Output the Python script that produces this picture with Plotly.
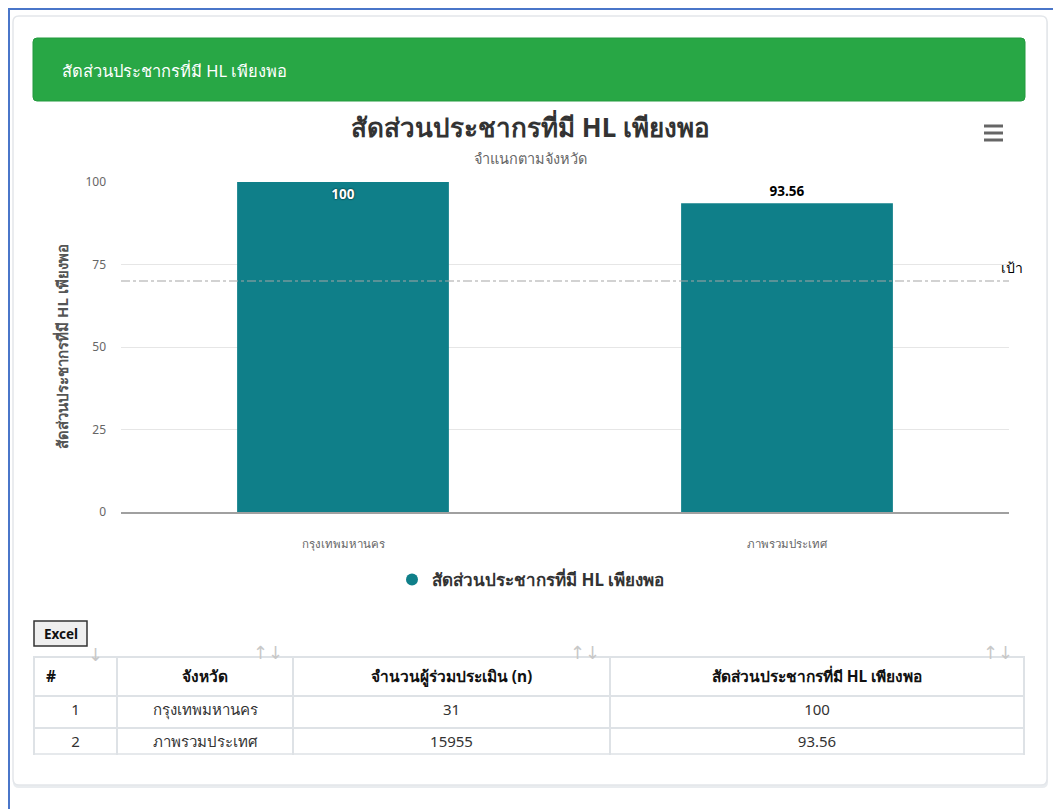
import plotly.graph_objects as go

# ---------------- data ----------------
categories = ["กรุงเทพมหานคร", "ภาพรวมประเทศ"]
hl_values = [100, 93.56]
participants = [31, 15955]
row_numbers = [1, 2]
target_value = 70
series_name = "สัดส่วนประชากรที่มี HL เพียงพอ"
chart_title = "สัดส่วนประชากรที่มี HL เพียงพอ"
chart_subtitle = "จำแนกตามจังหวัด"
yaxis_title = "สัดส่วนประชากรที่มี HL เพียงพอ"
target_label = "เป้า"
card_header = "สัดส่วนประชากรที่มี HL เพียงพอ"
table_headers = ["#", "จังหวัด", "จำนวนผู้ร่วมประเมิน (n)", "สัดส่วนประชากรที่มี HL เพียงพอ"]
y_ticks = [0, 25, 50, 75, 100]

# ---------------- layout helpers ----------------
W, H = 1053, 809
FONT = "Noto Sans, DejaVu Sans, Liberation Sans, sans-serif"
TEAL = "#0f7f89"


def px(x):
    return x / W


def py(y):
    return 1 - y / H


def rounded_rect(x0, y0, x1, y1, r):
    rx, ry = r / W, r / H
    X0, X1 = px(x0), px(x1)
    Y0, Y1 = py(y0), py(y1)  # Y0 top, Y1 bottom
    return (
        f"M {X0 + rx},{Y0} L {X1 - rx},{Y0} Q {X1},{Y0} {X1},{Y0 - ry} "
        f"L {X1},{Y1 + ry} Q {X1},{Y1} {X1 - rx},{Y1} "
        f"L {X0 + rx},{Y1} Q {X0},{Y1} {X0},{Y1 + ry} "
        f"L {X0},{Y0 - ry} Q {X0},{Y0} {X0 + rx},{Y0} Z"
    )


fig = go.Figure()

# bars
fig.add_trace(go.Bar(
    x=categories,
    y=hl_values,
    name=series_name,
    marker=dict(color=TEAL, line=dict(width=0)),
    text=[f"{v:g}" for v in hl_values],
    texttemplate="<b>%{text}</b>",
    textposition=["inside" if v >= 97 else "outside" for v in hl_values],
    insidetextanchor="end",
    textangle=0,
    constraintext="none",
    cliponaxis=False,
    textfont=dict(size=13.5, family=FONT, color=["#ffffff" if v >= 97 else "#000000" for v in hl_values]),
    insidetextfont=dict(size=13.5, family=FONT, color="#ffffff", shadow="0px 0px 2px #000"),
    outsidetextfont=dict(size=13.5, family=FONT, color="#000000"),
    showlegend=False,
    hoverinfo="x+y",
))

# legend entry with circle symbol (Highcharts style)
fig.add_trace(go.Scatter(
    x=[None], y=[None], mode="markers", name=series_name,
    marker=dict(symbol="circle", size=16, color=TEAL),
    showlegend=True,
))

# table
fig.add_trace(go.Table(
    domain=dict(x=[px(34), px(1024)], y=[py(756), py(657)]),
    columnwidth=[83, 176, 317, 414],
    header=dict(
        values=["&nbsp;<b>" + h + "</b>" if h == "#" else f"<b>{h}</b>" for h in table_headers],
        align=["left", "center", "center", "center"],
        fill_color="white",
        line_color="#dee2e6",
        line_width=1.5,
        font=dict(family=FONT, size=15.5, color="#111"),
        height=33,
    ),
    cells=dict(
        values=[row_numbers, categories, participants, [f"{v:g}" for v in hl_values]],
        align="center",
        fill_color="white",
        line_color="#dee2e6",
        line_width=1.5,
        font=dict(family=FONT, size=15, color="#333"),
        height=32,
    ),
))

shapes = []
# outer blue frame lines
shapes.append(dict(type="line", xref="paper", yref="paper", x0=px(9), x1=px(9), y0=py(9), y1=py(809),
                   line=dict(color="#4a76c9", width=2), layer="below"))
shapes.append(dict(type="line", xref="paper", yref="paper", x0=px(8), x1=px(1053), y0=py(9), y1=py(9),
                   line=dict(color="#4a76c9", width=2), layer="below"))
# card shadow + card
shapes.append(dict(type="path", xref="paper", yref="paper", path=rounded_rect(13, 18, 1048, 788, 6),
                   fillcolor="#e9ecef", line=dict(width=0), layer="below"))
shapes.append(dict(type="path", xref="paper", yref="paper", path=rounded_rect(13, 16, 1047, 785, 6),
                   fillcolor="white", line=dict(color="#e3e6ea", width=1.5), layer="below"))
# green header
shapes.append(dict(type="path", xref="paper", yref="paper", path=rounded_rect(33, 38, 1025, 101, 4),
                   fillcolor="#28a745", line=dict(color="#239a3e", width=1), layer="below"))
# hamburger menu icon
for yy in (126, 133, 140):
    shapes.append(dict(type="line", xref="paper", yref="paper", x0=px(984), x1=px(1003), y0=py(yy), y1=py(yy),
                       line=dict(color="#666666", width=3)))
# target line
shapes.append(dict(type="line", xref="x domain", yref="y", x0=0, x1=1, y0=target_value, y1=target_value,
                   line=dict(color="#a6a6a6", width=1.2, dash="dashdot"), layer="above"))
# Excel button
shapes.append(dict(type="rect", xref="paper", yref="paper", x0=px(34), x1=px(87), y0=py(621), y1=py(646),
                   fillcolor="#efefef", line=dict(color="#333333", width=1.5)))
# table bottom border
shapes.append(dict(type="line", xref="paper", yref="paper", x0=px(34), x1=px(1024), y0=py(754), y1=py(754),
                   line=dict(color="#dee2e6", width=1.5)))

annotations = []
annotations.append(dict(text=card_header, x=px(60), y=py(70), xref="paper", yref="paper",
                        xanchor="left", yanchor="middle", showarrow=False,
                        font=dict(family=FONT, size=16.5, color="white")))
annotations.append(dict(text=f"<b>{chart_title}</b>", x=px(530), y=py(127), xref="paper", yref="paper",
                        xanchor="center", yanchor="middle", showarrow=False,
                        font=dict(family=FONT, size=26, color="#333333")))
annotations.append(dict(text=chart_subtitle, x=px(530), y=py(158), xref="paper", yref="paper",
                        xanchor="center", yanchor="middle", showarrow=False,
                        font=dict(family=FONT, size=14.5, color="#666666")))
annotations.append(dict(text=f"<b>{yaxis_title}</b>", x=px(62), y=py(347), xref="paper", yref="paper",
                        xanchor="center", yanchor="middle", showarrow=False, textangle=-90,
                        font=dict(family=FONT, size=15, color="#555555")))
annotations.append(dict(text=target_label, x=px(999), y=target_value, xref="paper", yref="y",
                        xanchor="left", yanchor="bottom", yshift=2, showarrow=False,
                        font=dict(family=FONT, size=14, color="#000000")))
annotations.append(dict(text="<b>Excel</b>", x=px(60.5), y=py(633.5), xref="paper", yref="paper",
                        xanchor="center", yanchor="middle", showarrow=False,
                        font=dict(family=FONT, size=13.5, color="#111111")))
for ax_ in (268, 585, 998):
    annotations.append(dict(text="↑↓", x=px(ax_), y=py(652), xref="paper", yref="paper",
                            xanchor="center", yanchor="middle", showarrow=False,
                            font=dict(family=FONT, size=18, color="#c8c8c8")))
annotations.append(dict(text="↓", x=px(95), y=py(654), xref="paper", yref="paper",
                        xanchor="center", yanchor="middle", showarrow=False,
                        font=dict(family=FONT, size=18, color="#c8c8c8")))

fig.update_layout(
    width=W, height=H,
    autosize=False,
    margin=dict(l=0, r=0, t=0, b=0, pad=0, autoexpand=False),
    paper_bgcolor="white",
    plot_bgcolor="white",
    font=dict(family=FONT, color="#333333"),
    bargap=0.523,
    shapes=shapes,
    annotations=annotations,
    showlegend=True,
    legend=dict(
        orientation="h", x=px(531), y=py(580), xanchor="center", yanchor="middle",
        font=dict(family=FONT, size=17, color="#333333", weight="bold"),
        bgcolor="rgba(0,0,0,0)", itemsizing="constant",
    ),
    xaxis=dict(
        domain=[px(121), px(1009)],
        anchor="y",
        automargin=False,
        showgrid=False,
        showline=True, linecolor="#a0a0a0", linewidth=2,
        ticks="", ticklabelstandoff=20,
        tickfont=dict(family=FONT, size=11.5, color="#666666"),
        fixedrange=True,
    ),
    yaxis=dict(
        domain=[py(512), py(182)],
        anchor="x",
        automargin=False,
        range=[0, 100],
        tickvals=y_ticks,
        showgrid=True, gridcolor="#e6e6e6", gridwidth=1,
        zeroline=False, showline=False,
        ticklabelstandoff=14,
        tickfont=dict(family=FONT, size=12, color="#666666"),
        fixedrange=True,
    ),
)

fig.write_html(
    "out.html",
    config=dict(displayModeBar=False),
    post_script=(
        "document.documentElement.style.margin='0';document.body.style.margin='0';"
        "document.body.style.overflow='hidden';"
        "var d=document.getElementById('{plot_id}');d.style.position='absolute';"
        "d.style.top='0px';d.style.left='0px';"
    ),
)
